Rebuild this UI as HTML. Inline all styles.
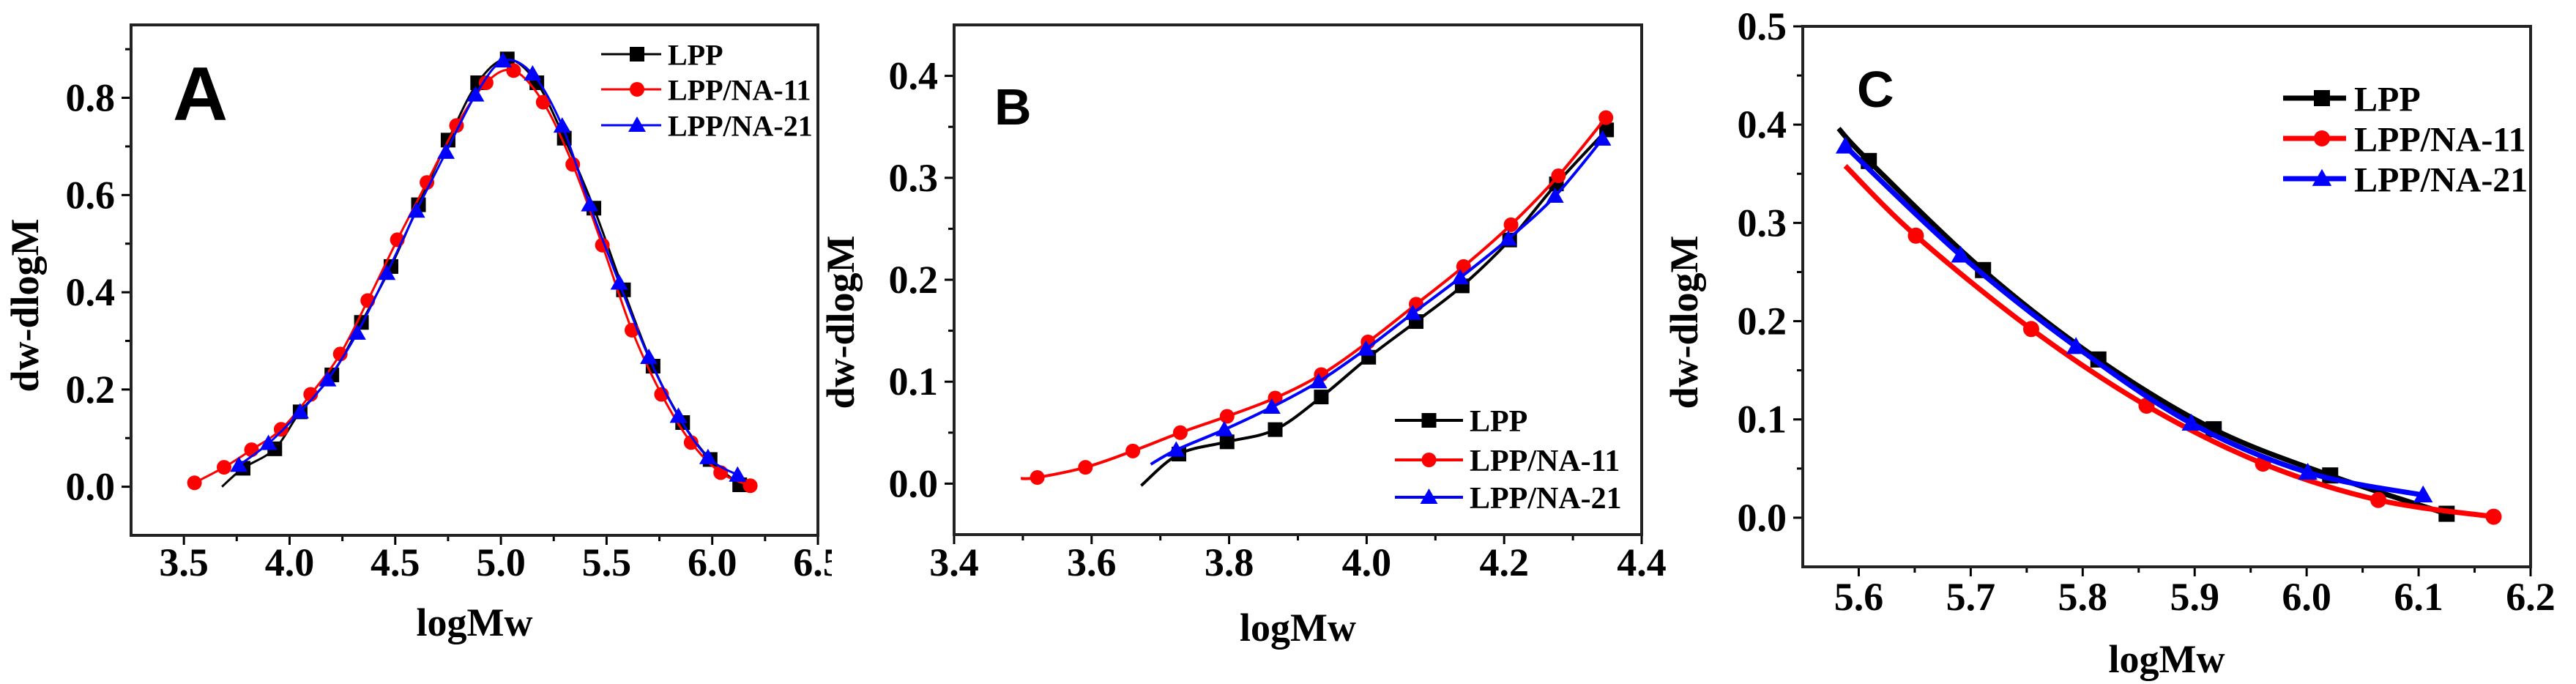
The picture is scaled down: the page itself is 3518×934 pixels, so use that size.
<!DOCTYPE html>
<html><head><meta charset="utf-8"><style>
html,body{margin:0;padding:0;background:#fff}
svg{display:block}
text{font-family:"Liberation Serif",serif;font-weight:bold;fill:#000}
</style></head><body>
<svg id="chart" width="3518" height="934" viewBox="0 0 3518 934" xmlns="http://www.w3.org/2000/svg"></svg>
<script>
// Panel A data
const aLppX=[3.68,3.78,3.93,4.05,4.20,4.34,4.48,4.61,4.75,4.89,5.03,5.17,5.30,5.44,5.58,5.72,5.86,5.99,6.13];
const aLppY=[0.0,0.038,0.078,0.154,0.23,0.338,0.453,0.58,0.713,0.831,0.88,0.831,0.717,0.573,0.405,0.248,0.132,0.056,0.004];
const aNa11X=[3.55,3.69,3.82,3.96,4.10,4.24,4.37,4.51,4.65,4.79,4.93,5.06,5.20,5.34,5.48,5.62,5.76,5.90,6.04,6.18];
const aNa11Y=[0.008,0.04,0.076,0.118,0.19,0.273,0.383,0.508,0.626,0.743,0.831,0.856,0.791,0.663,0.497,0.322,0.19,0.091,0.029,0.002];
const aNa21X=[3.76,3.90,4.05,4.18,4.32,4.46,4.60,4.74,4.88,5.01,5.15,5.29,5.42,5.56,5.70,5.84,5.98,6.12];
const aNa21Y=[0.044,0.089,0.154,0.22,0.316,0.439,0.567,0.688,0.806,0.876,0.849,0.742,0.58,0.419,0.266,0.145,0.06,0.024];
const aXTicks=[3.5,4.0,4.5,5.0,5.5,6.0,6.5];
const aYTicks=[0.0,0.2,0.4,0.6,0.8];
// Panel B data
const bLppX=[3.672,3.727,3.797,3.867,3.934,4.003,4.072,4.139,4.208,4.276,4.349];
const bLppY=[-0.002,0.029,0.041,0.053,0.085,0.124,0.159,0.194,0.239,0.294,0.347];
const bNa11X=[3.497,3.521,3.591,3.66,3.729,3.797,3.867,3.934,4.002,4.072,4.141,4.21,4.279,4.348];
const bNa11Y=[0.005,0.006,0.016,0.032,0.05,0.066,0.084,0.107,0.139,0.176,0.213,0.254,0.302,0.359];
const bNa21X=[3.686,3.723,3.793,3.862,3.930,3.999,4.067,4.136,4.206,4.274,4.343];
const bNa21Y=[0.019,0.033,0.053,0.075,0.100,0.132,0.167,0.202,0.24,0.282,0.338];
const bXTicks=[3.4,3.6,3.8,4.0,4.2,4.4];
const bYTicks=[0.0,0.1,0.2,0.3,0.4];
// Panel C data
const cLppX=[5.582,5.609,5.711,5.814,5.917,6.021,6.125];
const cLppY=[0.396,0.363,0.252,0.161,0.09,0.043,0.004];
const cNa11X=[5.588,5.651,5.754,5.857,5.961,6.064,6.167];
const cNa11Y=[0.358,0.287,0.192,0.114,0.055,0.018,0.001];
const cNa21X=[5.588,5.691,5.794,5.897,6.001,6.104];
const cNa21Y=[0.378,0.267,0.174,0.096,0.046,0.023];
const cXTicks=[5.6,5.7,5.8,5.9,6.0,6.1,6.2];
const cYTicks=[0.0,0.1,0.2,0.3,0.4,0.5];
const seriesNames=["LPP","LPP/NA-11","LPP/NA-21"];

const NS="http://www.w3.org/2000/svg";
const svg=document.getElementById('chart');
function mk(tag,attrs,parent){const e=document.createElementNS(NS,tag);for(const k in attrs)e.setAttribute(k,attrs[k]);(parent||svg).appendChild(e);return e;}
function smoothPath(pts){
  if(pts.length<2)return '';
  let d='M'+pts[0][0]+','+pts[0][1];
  for(let i=0;i<pts.length-1;i++){
    const p0=pts[i-1]||pts[i],p1=pts[i],p2=pts[i+1],p3=pts[i+2]||p2;
    const c1=[p1[0]+(p2[0]-p0[0])/6,p1[1]+(p2[1]-p0[1])/6];
    const c2=[p2[0]-(p3[0]-p1[0])/6,p2[1]-(p3[1]-p1[1])/6];
    d+=' C'+c1[0]+','+c1[1]+' '+c2[0]+','+c2[1]+' '+p2[0]+','+p2[1];
  }
  return d;
}
function marker(g,type,x,y,s,color,name){
  let e;
  if(type==='sq')e=mk('rect',{x:x-s/2,y:y-s/2,width:s,height:s,fill:color},g);
  else if(type==='ci')e=mk('circle',{cx:x,cy:y,r:s/2,fill:color},g);
  else e=mk('polygon',{points:(x)+','+(y-s*0.6)+' '+(x-s*0.6)+','+(y+s*0.45)+' '+(x+s*0.6)+','+(y+s*0.45),fill:color},g);
  
  
}
const colors=['#000','#ff0000','#0000ff'];
const mtypes=['sq','ci','tr'];

function panel(p){
  const g=mk('g',{});
  
  
  const sx=v=>p.L+(v-p.x0)/(p.x1-p.x0)*(p.R-p.L);
  const sy=v=>p.B-(v-p.y0)/(p.y1-p.y0)*(p.B-p.T);
  const tg=mk('g',{stroke:'#000','stroke-width':3},g);
  
  
  for(let i=0;i<p.xt.length;i++){
    const v=p.xt[i];
    mk('line',{x1:sx(v),y1:p.B,x2:sx(v),y2:p.B+13},tg);
    if(i<p.xt.length-1){const m=(v+p.xt[i+1])/2;mk('line',{x1:sx(m),y1:p.B,x2:sx(m),y2:p.B+8},tg);}
    const t=mk('text',{x:sx(v),y:p.tickY,'font-size':p.fs,'text-anchor':'middle'},g);
    t.textContent=v.toFixed(1);
    
    
  }
  for(let i=0;i<p.yt.length;i++){
    const v=p.yt[i];
    mk('line',{x1:p.L,y1:sy(v),x2:p.L-13,y2:sy(v)},tg);
    const m=v+(p.yt[1]-p.yt[0])/2;
    if(m<p.y1)mk('line',{x1:p.L,y1:sy(m),x2:p.L-8,y2:sy(m)},tg);
    const t=mk('text',{x:p.L-22,y:sy(v)+18,'font-size':p.fs,'text-anchor':'end'},g);
    t.textContent=v.toFixed(1);
    
    
  }
  for(let s=0;s<3;s++){
    const xs=p.data[s][0],ys=p.data[s][1];
    const pts=xs.map((x,i)=>[sx(x),sy(ys[i])]);
    const path=mk('path',{d:smoothPath(pts),fill:'none',stroke:colors[s],'stroke-width':p.lw,'stroke-linejoin':'round'},g);
    
    
    const skip=p.skip[s];
    pts.forEach((q,i)=>{if(i<skip)return;marker(g,mtypes[s],q[0],q[1],p.ms,colors[s],'point-'+seriesNames[s].toLowerCase().replace('/','-'));});
  }
  const fr=mk('rect',{x:p.L,y:p.T,width:p.R-p.L,height:p.B-p.T,fill:'none',stroke:'#222','stroke-width':4},g);
  
  
  for(let s=0;s<3;s++){
    const y=p.leg.y[s];
    const lg=mk('g',{},g);
    
    
    mk('line',{x1:p.leg.x1,y1:y,x2:p.leg.x2,y2:y,stroke:colors[s],'stroke-width':p.leg.lw},lg);
    marker(lg,mtypes[s],(p.leg.x1+p.leg.x2)/2+p.leg.mo,y,p.ms,colors[s],'legend-marker');
    const t=mk('text',{x:p.leg.tx,y:y+p.leg.fs*0.36,'font-size':p.leg.fs},lg);
    t.textContent=seriesNames[s];
  }
  const lt=mk('text',{x:p.letter[0],y:p.letter[1],'font-size':p.letter[2],style:'font-family:"Liberation Sans",sans-serif;font-weight:bold'},g);
  lt.textContent=p.id.toUpperCase();
  
  
  const xl=mk('text',{x:(p.L+p.R)/2,y:p.xlY,'font-size':54,'text-anchor':'middle'},g);
  xl.textContent='logMw';
  
  
  const yl=mk('text',{x:0,y:0,'font-size':54,'text-anchor':'middle',transform:'translate('+p.ylX+','+p.ylY+') rotate(-90)'},g);
  yl.textContent='dw-dlogM';
  
  
}

panel({id:'a',L:179,R:1117,T:34,B:731,x0:3.25,x1:6.5,y0:-0.1,y1:0.95,xt:aXTicks,yt:aYTicks,fs:54,tickY:786,xlY:868,ylX:52,ylY:417,lw:3,ms:20,
  data:[[aLppX,aLppY],[aNa11X,aNa11Y],[aNa21X,aNa21Y]],skip:[1,0,0],
  leg:{x1:821,x2:903,tx:912,y:[74,122,171],lw:3,fs:40,mo:8},letter:[236,164,104]});
const cov=mk('rect',{x:1136,y:740,width:60,height:80,fill:'#fff'});


panel({id:'b',L:1303,R:2242,T:34,B:730,x0:3.4,x1:4.4,y0:-0.05,y1:0.45,xt:bXTicks,yt:bYTicks,fs:54,tickY:786,xlY:875,ylX:1166,ylY:440,lw:4,ms:20,
  data:[[bLppX,bLppY],[bNa11X,bNa11Y],[bNa21X,bNa21Y]],skip:[1,1,1],
  leg:{x1:1905,x2:1998,tx:2007,y:[574,628,679],lw:4,fs:42,mo:0},letter:[1358,170,70]});
panel({id:'c',L:2462,R:3456,T:36,B:774,x0:5.55,x1:6.2,y0:-0.05,y1:0.5,xt:cXTicks,yt:cYTicks,fs:54,tickY:833,xlY:918,ylX:2318,ylY:440,lw:7,ms:22,
  data:[[cLppX,cLppY],[cNa11X,cNa11Y],[cNa21X,cNa21Y]],skip:[1,1,0],
  leg:{x1:3118,x2:3204,tx:3215,y:[134,189,244],lw:7,fs:48,mo:10},letter:[2536,146,70]});
</script>
</body></html>
